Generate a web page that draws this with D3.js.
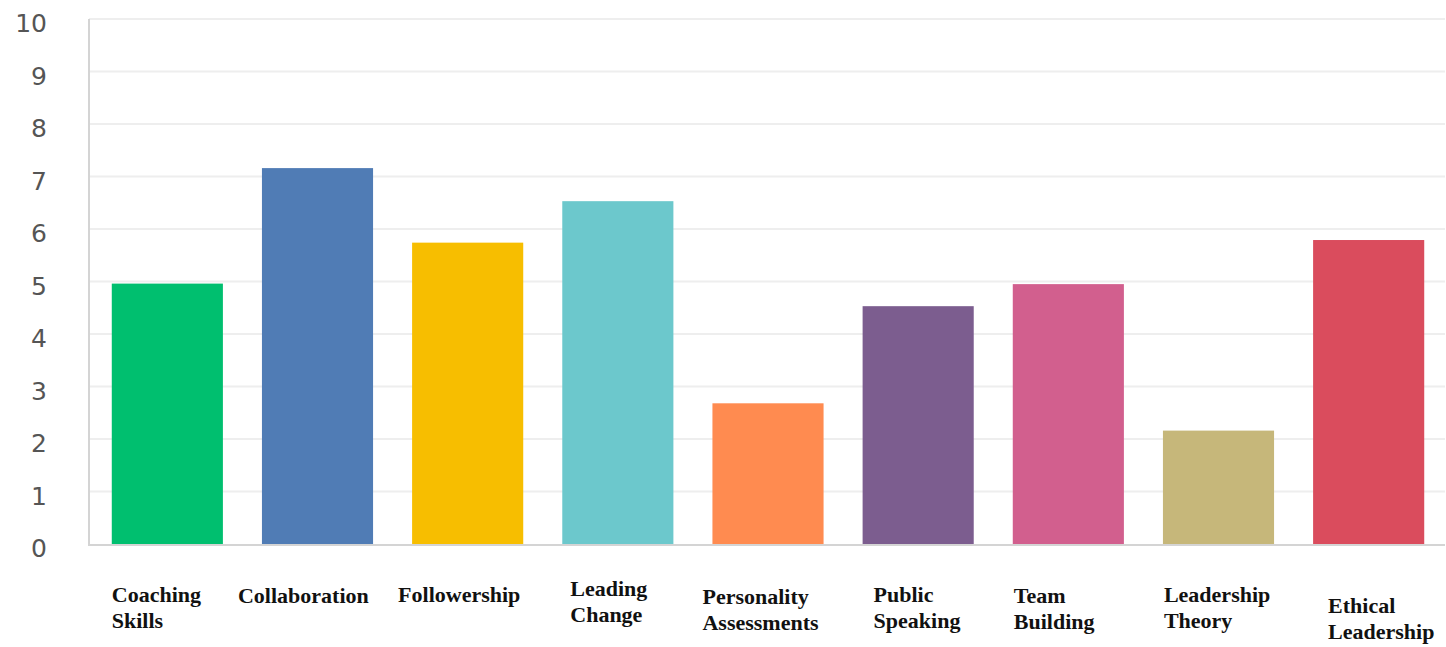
<!DOCTYPE html>
<html>
<head>
<meta charset="utf-8">
<script src="https://cdn.jsdelivr.net/npm/d3@7"></script>
<style>
  html, body { margin: 0; padding: 0; background: #fff; }
  svg { display: block; }
</style>
</head>
<body>
<div id="chart"></div>
<script>
// ── Data ──────────────────────────────────────────────────────────────────────
const CATEGORIES = ["Coaching Skills", "Collaboration", "Followership", "Leading Change",
  "Personality Assessments", "Public Speaking", "Team Building", "Leadership Theory", "Ethical Leadership"];
const VALUES = [4.96, 7.16, 5.74, 6.53, 2.68, 4.53, 4.95, 2.16, 5.79];
const LABEL_LINES = [["Coaching", "Skills"], ["Collaboration"], ["Followership"], ["Leading", "Change"],
  ["Personality", "Assessments"], ["Public", "Speaking"], ["Team", "Building"], ["Leadership", "Theory"],
  ["Ethical", "Leadership"]];
const Y_TICKS = [0, 1, 2, 3, 4, 5, 6, 7, 8, 9, 10];

// ── Style / layout ────────────────────────────────────────────────────────────
const COLORS = ["#00BF6F", "#507CB5", "#F7BE00", "#6CC8CC", "#FF8B50",
  "#7C5D8F", "#D25F8E", "#C6B77A", "#DA4C5D"];
// small hand nudges so each label sits where the original put it
const LABEL_DX = [0, -24, -14, 8, -10, 11, 1, 1, 15];
const LABEL_DY = [0, 1, 0, -6, 2, 0, 1, 0, 11];

const W = 1446, H = 647;
const margin = { top: 19, right: 0, bottom: 103, left: 89 };

const svg = d3.select("#chart").append("svg")
  .attr("width", W).attr("height", H);

// ── Scales ────────────────────────────────────────────────────────────────────
const x = d3.scaleBand()
  .domain(CATEGORIES)
  .range([margin.left + 1, W - margin.right])
  .paddingInner(0.26)
  .paddingOuter(0.145);

const y = d3.scaleLinear()
  .domain([0, 10])
  .range([H - margin.bottom, margin.top]);

// ── Grid ──────────────────────────────────────────────────────────────────────
svg.append("g")
  .selectAll("line")
  .data(Y_TICKS.filter(d => d > 0))
  .join("line")
  .attr("x1", margin.left).attr("x2", W - 1)
  .attr("y1", d => y(d)).attr("y2", d => y(d))
  .attr("stroke", "#eeeeee").attr("stroke-width", 2);

// ── Y axis labels ─────────────────────────────────────────────────────────────
const yAxis = svg.append("g")
  .attr("transform", `translate(${margin.left},0)`)
  .call(d3.axisLeft(y).tickValues(Y_TICKS).tickSize(0).tickPadding(42));
yAxis.select(".domain").remove();
yAxis.selectAll("text")
  .attr("dy", "0.38em")
  .attr("y", 3)
  .style("font-family", "'DejaVu Sans', sans-serif")
  .style("font-size", "25px")
  .attr("fill", "#555");

// ── Bars ──────────────────────────────────────────────────────────────────────
svg.append("g")
  .selectAll("rect")
  .data(CATEGORIES)
  .join("rect")
  .attr("x", d => x(d))
  .attr("width", x.bandwidth())
  .attr("y", (d, i) => y(VALUES[i]))
  .attr("height", (d, i) => y(0) - y(VALUES[i]))
  .attr("fill", (d, i) => COLORS[i]);

// ── Axis lines ────────────────────────────────────────────────────────────────
svg.append("line")
  .attr("x1", margin.left).attr("x2", margin.left)
  .attr("y1", y(10)).attr("y2", y(0) + 1)
  .attr("stroke", "#d4d4d4").attr("stroke-width", 2);
svg.append("line")
  .attr("x1", margin.left - 1).attr("x2", W - 1)
  .attr("y1", y(0) + 1).attr("y2", y(0) + 1)
  .attr("stroke", "#d4d4d4").attr("stroke-width", 2);

// ── Category labels ───────────────────────────────────────────────────────────
const labels = svg.append("g")
  .selectAll("text")
  .data(CATEGORIES)
  .join("text")
  .attr("x", (d, i) => x(d) + LABEL_DX[i])
  .attr("y", (d, i) => 602 + LABEL_DY[i])
  .style("font-family", "'Liberation Serif', 'Times New Roman', serif")
  .style("font-weight", "bold")
  .style("font-size", "22px")
  .attr("fill", "#111");

labels.each(function (d, i) {
  const t = d3.select(this);
  LABEL_LINES[i].forEach((line, j) => {
    t.append("tspan")
      .attr("x", x(d) + LABEL_DX[i])
      .attr("dy", j === 0 ? 0 : 26)
      .text(line);
  });
});
</script>
</body>
</html>
